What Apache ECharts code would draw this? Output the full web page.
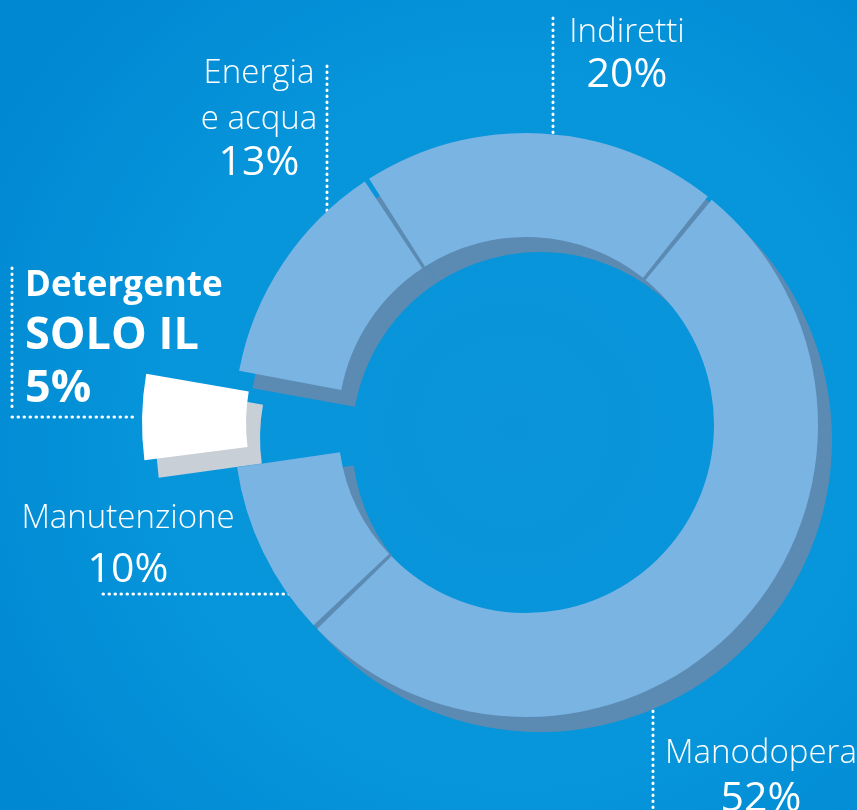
<!DOCTYPE html>
<html>
<head>
<meta charset="utf-8">
<script src="https://cdn.jsdelivr.net/npm/echarts@6/dist/echarts.min.js"></script>
<style>
  html, body { margin: 0; padding: 0; }
  #chart { width: 857px; height: 810px; }
</style>
</head>
<body>
<div id="chart"></div>
<script>
// slices in clockwise order, starting from the top slice
const categories = ['Indiretti', 'Manodopera', 'Manutenzione', 'Detergente', 'Energia\ne acqua']
const shares = [20, 52, 10, 5, 13]
const subtitle = ['', '', '', 'SOLO IL', '']
const highlighted = 'Detergente'

// label blocks: x anchor, baseline of first line, gap between baselines
const labelPos = [
  { x: 627, y: 43, align: 'center', gap: 45 },
  { x: 761, y: 764, align: 'center', gap: 48 },
  { x: 128, y: 529, align: 'center', gap: 54 },
  { x: 25, y: 297, align: 'left', gap: 53 },
  { x: 259, y: 84, align: 'center', gap: 46 }
]

const TOP = '#7ab4e3'
const SIDE = '#5b8bb3'
const FONT = '"Open Sans", "Noto Sans", sans-serif'

let chart = echarts.init(document.getElementById('chart'))

function faceData(main, special) {
  return categories.map((c, i) => ({
    name: c,
    value: shares[i],
    selected: c === highlighted,
    itemStyle: { color: c === highlighted ? special : main }
  }))
}

function dotted(x1, y1, x2, y2) {
  return {
    type: 'line',
    shape: { x1: x1, y1: y1, x2: x2, y2: y2 },
    style: { stroke: '#ffffff', lineWidth: 3, lineDash: [0.5, 5.5], lineCap: 'round' },
    silent: true
  }
}

function textLine(str, x, baseline, align, size, weight) {
  return {
    type: 'text',
    silent: true,
    style: {
      text: str, x: x, y: baseline - size * 0.31,
      align: align, verticalAlign: 'middle',
      fill: '#ffffff',
      font: weight + ' ' + size + 'px ' + FONT
    }
  }
}

function labelGraphics() {
  let out = []
  categories.forEach((c, i) => {
    let lp = labelPos[i]
    let lines
    if (c === highlighted) {
      lines = [[c, 35, 'bold'], [subtitle[i], 45, 'bold'], [shares[i] + '%', 45, 'bold']]
    } else {
      lines = c.split('\n').map(s => [s, 33, 300])
      lines.push([shares[i] + '%', 41, 400])
    }
    lines.forEach((l, k) => {
      out.push(textLine(l[0], lp.x, lp.y + k * lp.gap, lp.align, l[1], l[2]))
    })
  })
  return out
}

let option = {
  backgroundColor: {
    type: 'radial', x: 0.6, y: 0.53, r: 0.75,
    colorStops: [
      { offset: 0, color: '#0a93d9' },
      { offset: 0.55, color: '#0796db' },
      { offset: 1, color: '#0088d2' }
    ]
  },
  animation: false,
  graphic: [
    dotted(327, 66, 327, 242),
    dotted(553, 18, 553, 195),
    dotted(12, 268, 12, 412),
    dotted(12, 417, 133, 417),
    dotted(103, 594, 313, 594),
    dotted(653, 615, 653, 810)
  ].concat(labelGraphics()),
  series: [
    {
      // side wall of the ring
      type: 'pie',
      silent: true,
      center: [540, 440],
      radius: [188, 292],
      startAngle: 123,
      selectedMode: 'single',
      selectedOffset: 92,
      label: { show: false },
      labelLine: { show: false },
      data: faceData(SIDE, '#c9cfd6')
    },
    {
      type: 'pie',
      silent: true,
      center: [526, 425],
      radius: [188, 292],
      startAngle: 123,
      padAngle: 1,
      selectedMode: 'single',
      selectedOffset: 92,
      label: { show: false },
      labelLine: { show: false },
      data: faceData(TOP, '#ffffff')
    }
  ]
}

chart.setOption(option)
</script>
</body>
</html>
